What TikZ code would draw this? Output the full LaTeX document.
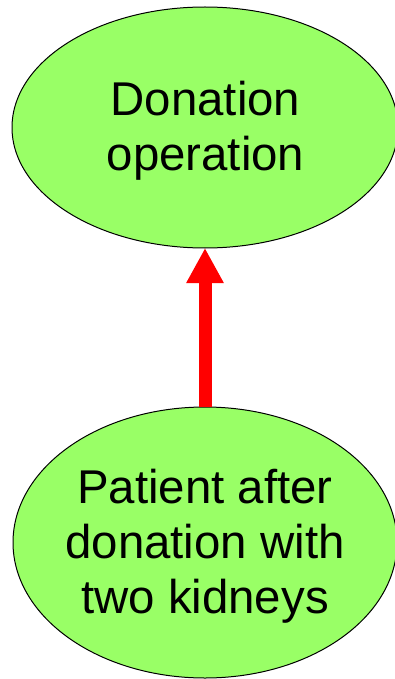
\documentclass[tikz,border=0pt]{standalone}
\usepackage{fontspec}
\setmainfont{Liberation Sans}
\usetikzlibrary{shapes.geometric,arrows.meta}
\definecolor{leaf}{RGB}{153,255,102}
\definecolor{flow}{RGB}{255,0,0}
\tikzset{
  bubble/.style={ellipse, draw=black, line width=1pt, fill=leaf, inner sep=0pt, outer sep=0pt},
  caption/.style={align=center, inner sep=0pt, text=black,
    font={\fontsize{47.4}{55}\selectfont}},
  flowarrow/.style={draw=flow, line width=13pt,
    -{Triangle[width=35pt,length=35pt]}}
}
\begin{document}
\begin{tikzpicture}[x=1pt,y=-1pt]
  \useasboundingbox (0,0) rectangle (394,679);
  % the two states
  \node[bubble, minimum width=386pt, minimum height=241pt] (op) at (205,127.5) {};
  \node[bubble, minimum width=384pt, minimum height=271pt] (pat) at (205,542.5) {};
  \node[caption] (optext) at (205.5,131) {Donation\\operation};
  \node[caption] (pattext) at (205,546) {Patient after\\donation with\\two kidneys};
  % transition
  \draw[flowarrow] (pat.north) -- (op.south);
\end{tikzpicture}
\end{document}
